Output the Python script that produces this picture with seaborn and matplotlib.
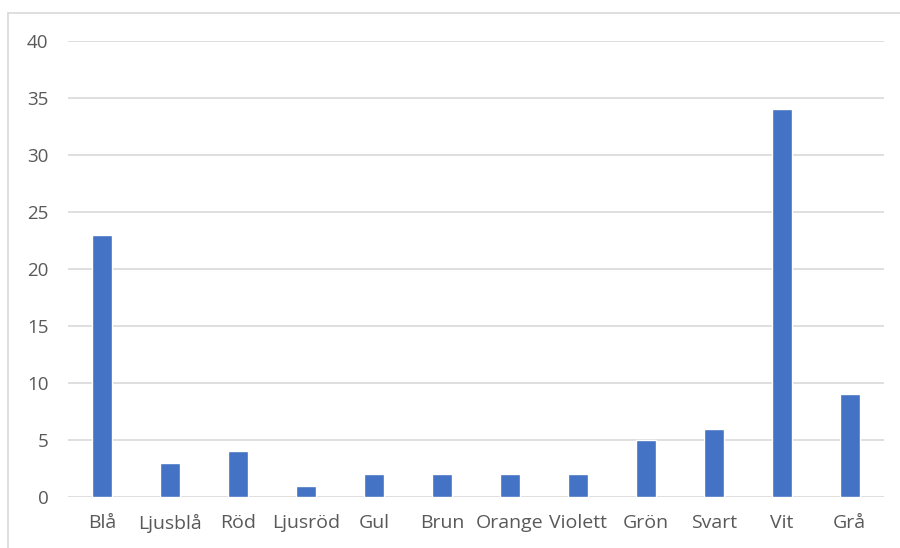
import pandas as pd
import seaborn as sns
import matplotlib.pyplot as plt
from matplotlib.lines import Line2D

# chart data
categories = ['Blå', 'Ljusblå', 'Röd', 'Ljusröd', 'Gul', 'Brun',
              'Orange', 'Violett', 'Grön', 'Svart', 'Vit', 'Grå']
values = [23, 3, 4, 1, 2, 2, 2, 2, 5, 6, 34, 9]
y_ticks = [0, 5, 10, 15, 20, 25, 30, 35, 40]

df = pd.DataFrame({'colour': categories, 'count': values})

sns.set_style('white')
plt.rcParams['font.family'] = ['Open Sans', 'DejaVu Sans']

fig = plt.figure(figsize=(9, 5.48), dpi=100)
ax = fig.add_axes([0.0756, 0.093, 0.9064, 0.832])

sns.barplot(data=df, x='colour', y='count', color='#4472C4', saturation=1,
            width=0.3, ax=ax, zorder=3)

ax.set_ylim(0, 40)
ax.set_yticks(y_ticks)
ax.set_xlim(-0.5, len(categories) - 0.5)
ax.grid(axis='y', color='#d9d9d9', linewidth=1.2, zorder=0)
ax.set_axisbelow(True)
for s in ax.spines.values():
    s.set_visible(False)
ax.set_xlabel('')
ax.set_ylabel('')
ax.tick_params(axis='y', length=0, pad=14, labelsize=13.5, labelcolor='#595959')
ax.tick_params(axis='x', length=0, pad=12, labelsize=14, labelcolor='#595959')

# chart frame (top and left edges visible)
fig.add_artist(Line2D([8 / 900, 1], [1 - 13 / 548, 1 - 13 / 548],
                      transform=fig.transFigure, color='#d9d9d9', lw=1.2))
fig.add_artist(Line2D([8 / 900, 8 / 900], [0, 1 - 13 / 548],
                      transform=fig.transFigure, color='#d9d9d9', lw=1.2))

fig.savefig('out.png', dpi=100)
